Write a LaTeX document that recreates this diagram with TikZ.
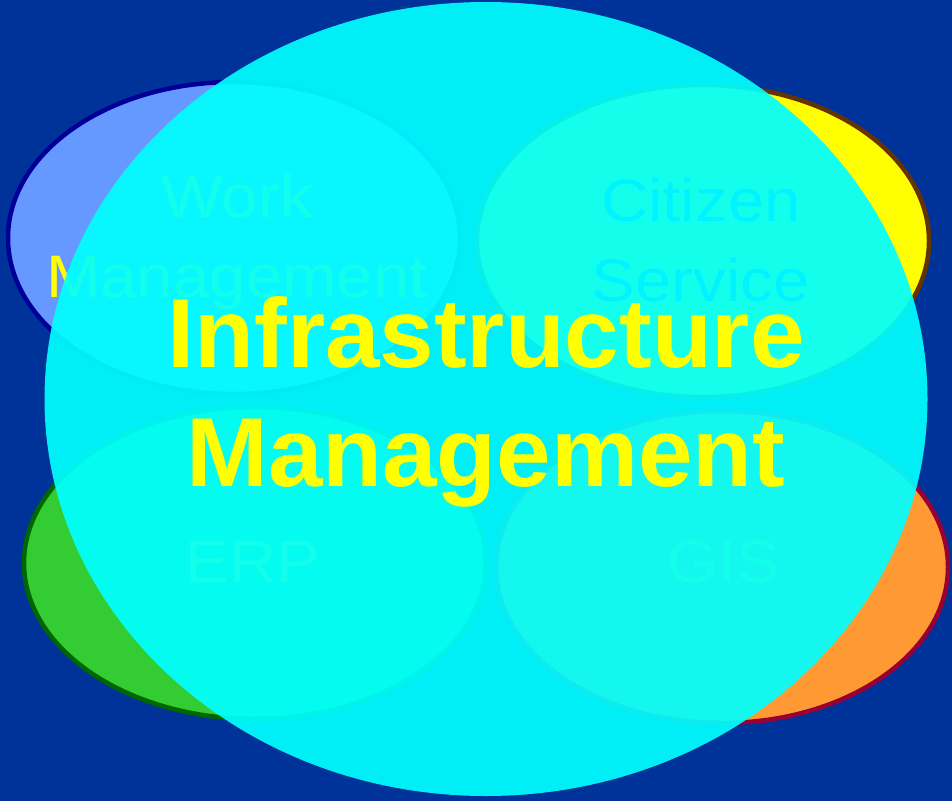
\documentclass[tikz,border=0pt]{standalone}
\usepackage{fontspec}
\setmainfont{Liberation Sans}
\newfontfamily\widesans[FakeStretch=1.09]{Liberation Sans}
\usetikzlibrary{shapes.geometric}
\definecolor{slidebg}{RGB}{0,51,153}
\definecolor{workfill}{RGB}{102,153,255}
\definecolor{workline}{RGB}{0,0,153}
\definecolor{citfill}{RGB}{255,255,0}
\definecolor{citline}{RGB}{102,51,0}
\definecolor{erpfill}{RGB}{51,204,51}
\definecolor{erpline}{RGB}{0,102,0}
\definecolor{gisfill}{RGB}{255,153,51}
\definecolor{gisline}{RGB}{153,0,51}
\definecolor{citext}{RGB}{0,102,255}
\definecolor{txtyellow}{RGB}{255,255,0}
\definecolor{infrafill}{RGB}{0,255,255}
\begin{document}
\begin{tikzpicture}[x=1pt,y=-1pt,
    bubble/.style={ellipse, line width=4.5pt, inner sep=0pt,
      minimum width=452pt, minimum height=312pt},
    smalltxt/.style={align=center, inner sep=0pt,
      font=\widesans\fontsize{60}{80}\selectfont},
    bigtxt/.style={align=center, inner sep=0pt, text=txtyellow,
      font=\bfseries\fontsize{98}{119}\selectfont}]
    \useasboundingbox (0,0) rectangle (952,801);
    \fill[slidebg] (0,0) rectangle (952,801);
    \node[bubble, fill=workfill, draw=workline] (work) at (234,238) {};
    \node[bubble, fill=citfill, draw=citline] (citizen) at (703,241) {};
    \node[bubble, fill=erpfill, draw=erpline, minimum width=462pt] (erp) at (255,563) {};
    \node[bubble, fill=gisfill, draw=gisline] (gis) at (722,567) {};
    \node[smalltxt, text=txtyellow] (worktxt) at (237,242) {Work\\Management};
    \node[smalltxt, text=citext] (citizentxt) at (701,240) {Citizen\\Service};
    \node[smalltxt, text=txtyellow] (erptxt) at (253,562) {ERP};
    \node[smalltxt, text=txtyellow] (gistxt) at (724,562) {GIS};
    \node[ellipse, fill=infrafill, fill opacity=0.92, inner sep=0pt,
      minimum width=883pt, minimum height=794pt] (infra) at (486,399) {};
    \node[bigtxt] (infratxt) at (486,402) {Infrastructure\\Management};
  \end{tikzpicture}
\end{document}
